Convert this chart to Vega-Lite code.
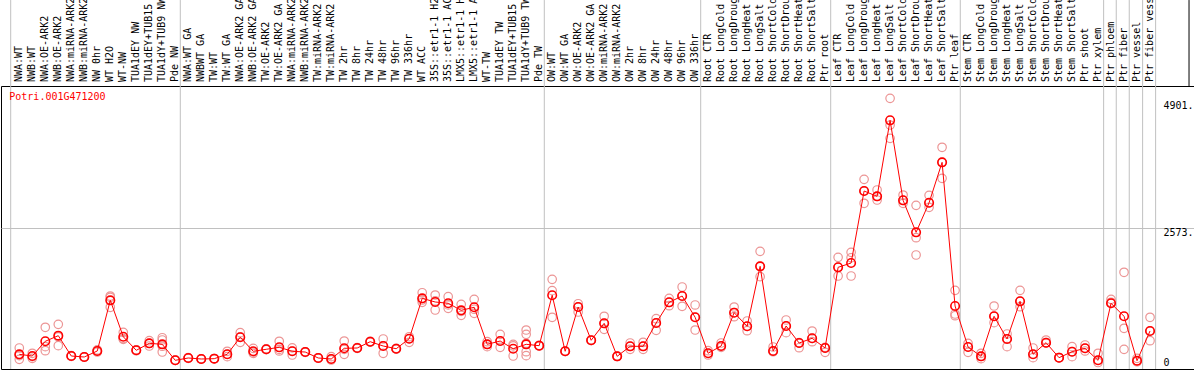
{
  "$schema": "https://vega.github.io/schema/vega-lite/v6.json",
  "autosize": "none",
  "padding": {"left": 1, "top": 86, "right": 0, "bottom": 1},
  "width": 1194,
  "height": 283,
  "background": "white",
  "config": {"view": {"stroke": "black", "strokeWidth": 1}},
  "datasets": {
    "means": [
      {"i":1,"label":"NWA:WT","v":156},{"i":2,"label":"NWB:WT","v":124},{"i":3,"label":"NWA:OE-ARK2","v":405},{"i":4,"label":"NWB:OE-ARK2","v":512},{"i":5,"label":"NWA:miRNA-ARK2","v":124},{"i":6,"label":"NWB:miRNA-ARK2","v":105},{"i":7,"label":"NW 0hr","v":220},{"i":8,"label":"WT H2O","v":1187},{"i":9,"label":"WT-NW","v":492},{"i":10,"label":"TUA1dEY NW","v":233},{"i":11,"label":"TUA1dEY+TUB15","v":366},{"i":12,"label":"TUA1dY+TUB9 NW","v":347},{"i":13,"label":"Pde NW","v":42},
      {"i":14,"label":"NWA:WT GA","v":86},{"i":15,"label":"NWBWT GA","v":67},{"i":16,"label":"TW:WT","v":73},{"i":17,"label":"TW:WT GA","v":157},{"i":18,"label":"NWA:OE-ARK2 GA","v":481},{"i":19,"label":"NWB:OE-ARK2 GA","v":214},{"i":20,"label":"TW:OE-ARK2","v":252},{"i":21,"label":"TW:OE-ARK2 GA","v":290},{"i":22,"label":"NWA:miRNA-ARK2","v":214},{"i":23,"label":"NWB:miRNA-ARK2","v":200},{"i":24,"label":"TW:miRNA-ARK2","v":86},{"i":25,"label":"TW:miRNA-ARK2","v":67},{"i":26,"label":"TW 2hr","v":271},{"i":27,"label":"TW 8hr","v":277},{"i":28,"label":"TW 24hr","v":397},{"i":29,"label":"TW 48hr","v":315},{"i":30,"label":"TW 96hr","v":263},{"i":31,"label":"TW 336hr","v":454},{"i":32,"label":"WT ACC","v":1225},{"i":33,"label":"35S::etr1-1 H2","v":1155},{"i":34,"label":"35S::etr1-1 AC","v":1130},{"i":35,"label":"LMX5::etr1-1 H","v":996},{"i":36,"label":"LMX5::etr1-1 A","v":1054},{"i":37,"label":"WT-TW","v":347},{"i":38,"label":"TUA1dEY TW","v":410},{"i":39,"label":"TUA1dEY+TUB15","v":263},{"i":40,"label":"TUA1dY+TUB9 TW","v":347},{"i":41,"label":"Pde TW","v":321},
      {"i":42,"label":"OW:WT","v":1283},{"i":43,"label":"OW:WT GA","v":214},{"i":44,"label":"OW:OE-ARK2","v":1059},{"i":45,"label":"OW:OE-ARK2 GA","v":424},{"i":46,"label":"OW:miRNA-ARK2","v":748},{"i":47,"label":"OW:miRNA-ARK2","v":118},{"i":48,"label":"OW 2hr","v":309},{"i":49,"label":"OW 8hr","v":309},{"i":50,"label":"OW 24hr","v":754},{"i":51,"label":"OW 48hr","v":1149},{"i":52,"label":"OW 96hr","v":1269},{"i":53,"label":"OW 336hr","v":863},
      {"i":54,"label":"Root CTR","v":176},{"i":55,"label":"Root LongCold","v":315},{"i":56,"label":"Root LongDroug","v":951},{"i":57,"label":"Root LongHeat","v":691},{"i":58,"label":"Root LongSalt","v":1836},{"i":59,"label":"Root ShortCold","v":220},{"i":60,"label":"Root ShortDrou","v":697},{"i":61,"label":"Root ShortHeat","v":372},{"i":62,"label":"Root ShortSalt","v":462},{"i":63,"label":"Ptr root","v":277},
      {"i":64,"label":"Leaf CTR","v":1817},{"i":65,"label":"Leaf LongCold","v":1899},{"i":66,"label":"Leaf LongDroug","v":3273},{"i":67,"label":"Leaf LongHeat","v":3172},{"i":68,"label":"Leaf LongSalt","v":4623},{"i":69,"label":"Leaf ShortCold","v":3096},{"i":70,"label":"Leaf ShortDrou","v":2485},{"i":71,"label":"Leaf ShortHeat","v":3050},{"i":72,"label":"Leaf ShortSalt","v":3821},{"i":73,"label":"Ptr leaf","v":1078},
      {"i":74,"label":"Stem CTR","v":296},{"i":75,"label":"Stem LongCold","v":118},{"i":76,"label":"Stem LongDroug","v":882},{"i":77,"label":"Stem LongHeat","v":449},{"i":78,"label":"Stem LongSalt","v":1168},{"i":79,"label":"Stem ShortCold","v":157},{"i":80,"label":"Stem ShortDrou","v":378},{"i":81,"label":"Stem ShortHeat","v":92},{"i":82,"label":"Stem ShortSalt","v":206},{"i":83,"label":"Ptr shoot","v":271},{"i":84,"label":"Ptr xylem","v":42},
      {"i":85,"label":"Ptr phloem","v":1130},{"i":86,"label":"Ptr fiber","v":882},{"i":87,"label":"Ptr vessel","v":34},{"i":88,"label":"Ptr fiber vess","v":601}
    ],
    "reps": [
      {"i":1,"v":277},{"i":1,"v":61},{"i":1,"v":130},
      {"i":2,"v":176},{"i":2,"v":111},{"i":2,"v":80},
      {"i":3,"v":672},{"i":3,"v":302},{"i":3,"v":225},
      {"i":4,"v":729},{"i":4,"v":321},{"i":4,"v":490},
      {"i":5,"v":124},{"i":5,"v":130},{"i":5,"v":118},
      {"i":6,"v":105},{"i":6,"v":100},{"i":6,"v":110},
      {"i":7,"v":220},{"i":7,"v":200},{"i":7,"v":240},
      {"i":8,"v":1269},{"i":8,"v":1244},{"i":8,"v":1054},
      {"i":9,"v":576},{"i":9,"v":443},{"i":9,"v":457},
      {"i":10,"v":240},{"i":10,"v":225},{"i":10,"v":235},
      {"i":11,"v":416},{"i":11,"v":315},{"i":11,"v":366},
      {"i":12,"v":473},{"i":12,"v":430},{"i":12,"v":310},{"i":12,"v":200},
      {"i":13,"v":42},{"i":13,"v":45},{"i":13,"v":40},
      {"i":14,"v":86},{"i":14,"v":80},{"i":14,"v":92},
      {"i":15,"v":67},{"i":15,"v":70},{"i":15,"v":64},
      {"i":16,"v":73},{"i":16,"v":70},{"i":16,"v":76},
      {"i":17,"v":214},{"i":17,"v":111},{"i":17,"v":157},
      {"i":18,"v":569},{"i":18,"v":386},{"i":18,"v":490},
      {"i":19,"v":271},{"i":19,"v":176},{"i":19,"v":200},
      {"i":20,"v":252},{"i":20,"v":260},{"i":20,"v":245},
      {"i":21,"v":405},{"i":21,"v":220},{"i":21,"v":250},
      {"i":22,"v":220},{"i":22,"v":143},{"i":22,"v":280},
      {"i":23,"v":200},{"i":23,"v":195},{"i":23,"v":205},
      {"i":24,"v":86},{"i":24,"v":90},{"i":24,"v":82},
      {"i":25,"v":111},{"i":25,"v":48},{"i":25,"v":67},
      {"i":26,"v":410},{"i":26,"v":156},{"i":26,"v":250},
      {"i":27,"v":277},{"i":27,"v":270},{"i":27,"v":285},
      {"i":28,"v":397},{"i":28,"v":390},{"i":28,"v":405},
      {"i":29,"v":449},{"i":29,"v":176},{"i":29,"v":320},
      {"i":30,"v":263},{"i":30,"v":255},{"i":30,"v":270},
      {"i":31,"v":492},{"i":31,"v":386},{"i":31,"v":454},
      {"i":32,"v":1332},{"i":32,"v":1149},{"i":32,"v":1194},
      {"i":33,"v":1288},{"i":33,"v":1002},{"i":33,"v":1175},
      {"i":34,"v":1256},{"i":34,"v":1034},{"i":34,"v":1100},
      {"i":35,"v":1111},{"i":35,"v":901},{"i":35,"v":976},
      {"i":36,"v":1206},{"i":36,"v":939},{"i":36,"v":1017},
      {"i":37,"v":397},{"i":37,"v":302},{"i":37,"v":347},
      {"i":38,"v":538},{"i":38,"v":290},{"i":38,"v":410},
      {"i":39,"v":347},{"i":39,"v":124},{"i":39,"v":318},
      {"i":40,"v":620},{"i":40,"v":538},{"i":40,"v":366},{"i":40,"v":206},{"i":40,"v":130},
      {"i":41,"v":321},{"i":41,"v":315},{"i":41,"v":328},
      {"i":42,"v":1588},{"i":42,"v":1371},{"i":42,"v":863},
      {"i":43,"v":214},{"i":43,"v":210},{"i":43,"v":218},
      {"i":44,"v":1122},{"i":44,"v":964},{"i":44,"v":1059},
      {"i":45,"v":424},{"i":45,"v":420},{"i":45,"v":430},
      {"i":46,"v":882},{"i":46,"v":634},{"i":46,"v":748},
      {"i":47,"v":118},{"i":47,"v":115},{"i":47,"v":122},
      {"i":48,"v":372},{"i":48,"v":252},{"i":48,"v":309},
      {"i":49,"v":386},{"i":49,"v":252},{"i":49,"v":309},
      {"i":50,"v":836},{"i":50,"v":615},{"i":50,"v":754},
      {"i":51,"v":1225},{"i":51,"v":1084},{"i":51,"v":1149},
      {"i":52,"v":1441},{"i":52,"v":1073},{"i":52,"v":1269},
      {"i":53,"v":1098},{"i":53,"v":620},{"i":53,"v":863},
      {"i":54,"v":225},{"i":54,"v":143},{"i":54,"v":176},
      {"i":55,"v":372},{"i":55,"v":315},{"i":55,"v":290},
      {"i":56,"v":1059},{"i":56,"v":874},{"i":56,"v":951},
      {"i":57,"v":792},{"i":57,"v":607},{"i":57,"v":691},
      {"i":58,"v":2122},{"i":58,"v":1638},{"i":58,"v":1836},
      {"i":59,"v":296},{"i":59,"v":206},{"i":59,"v":220},
      {"i":60,"v":811},{"i":60,"v":569},{"i":60,"v":697},
      {"i":61,"v":378},{"i":61,"v":282},{"i":61,"v":372},
      {"i":62,"v":601},{"i":62,"v":397},{"i":62,"v":462},
      {"i":63,"v":290},{"i":63,"v":195},{"i":63,"v":277},
      {"i":64,"v":2008},{"i":64,"v":1651},{"i":64,"v":1817},
      {"i":65,"v":2103},{"i":65,"v":2000},{"i":65,"v":1651},
      {"i":66,"v":3497},{"i":66,"v":3039},{"i":66,"v":3273},
      {"i":67,"v":3293},{"i":67,"v":3102},{"i":67,"v":3172},
      {"i":68,"v":5043},{"i":68,"v":4533},{"i":68,"v":4279},
      {"i":69,"v":3197},{"i":69,"v":3039},{"i":69,"v":3096},
      {"i":70,"v":3000},{"i":70,"v":2382},{"i":70,"v":2052},
      {"i":71,"v":3191},{"i":71,"v":2962},{"i":71,"v":3050},
      {"i":72,"v":4108},{"i":72,"v":3516},{"i":72,"v":3821},
      {"i":73,"v":1378},{"i":73,"v":926},{"i":73,"v":893},
      {"i":74,"v":366},{"i":74,"v":195},{"i":74,"v":296},
      {"i":75,"v":176},{"i":75,"v":73},{"i":75,"v":118},
      {"i":76,"v":1078},{"i":76,"v":760},{"i":76,"v":882},
      {"i":77,"v":544},{"i":77,"v":302},{"i":77,"v":449},
      {"i":78,"v":1378},{"i":78,"v":1065},{"i":78,"v":1168},
      {"i":79,"v":277},{"i":79,"v":92},{"i":79,"v":157},
      {"i":80,"v":429},{"i":80,"v":378},{"i":80,"v":370},
      {"i":81,"v":92},{"i":81,"v":95},{"i":81,"v":88},
      {"i":82,"v":302},{"i":82,"v":111},{"i":82,"v":206},
      {"i":83,"v":334},{"i":83,"v":220},{"i":83,"v":271},
      {"i":84,"v":176},{"i":84,"v":0},{"i":84,"v":42},
      {"i":85,"v":1206},{"i":85,"v":1130},{"i":85,"v":1150},
      {"i":86,"v":1722},{"i":86,"v":653},{"i":86,"v":252},
      {"i":87,"v":80},{"i":87,"v":15},{"i":87,"v":34},
      {"i":88,"v":863},{"i":88,"v":416},{"i":88,"v":601}
    ],
    "seps": [
      {"pos":0.338},{"pos":13.387},{"pos":41.394},{"pos":53.427},{"pos":63.43},{"pos":73.4},{"pos":84.43},{"pos":85.4},{"pos":86.4},{"pos":87.43},{"pos":88.43}
    ]
  },
  "layer": [
    {
      "data": {"name": "seps"},
      "mark": {"type": "rule", "color": "#c0c0c0", "strokeWidth": 1},
      "encoding": {
        "x": {"field": "pos", "type": "quantitative", "scale": {"domain": [-0.408, 91.46], "nice": false, "zero": false}, "axis": null},
        "y": {"datum": 6919, "type": "quantitative"},
        "y2": {"datum": -124}
      }
    },
    {
      "data": {"values": [{"edge": 91.0}]},
      "mark": {"type": "rule", "color": "black", "strokeWidth": 1},
      "encoding": {
        "x": {"field": "edge", "type": "quantitative"},
        "y": {"datum": 6919, "type": "quantitative"},
        "y2": {"datum": 5278}
      }
    },
    {
      "data": {"name": "reps"},
      "mark": {"type": "point", "shape": "circle", "filled": false, "size": 72, "color": "#ec9595", "strokeWidth": 1.2, "opacity": 1},
      "encoding": {
        "x": {"field": "i", "type": "quantitative"},
        "y": {"field": "v", "type": "quantitative"}
      }
    },
    {
      "data": {"name": "means"},
      "mark": {"type": "line", "color": "#ff0000", "strokeWidth": 1},
      "encoding": {
        "x": {"field": "i", "type": "quantitative"},
        "y": {
          "field": "v", "type": "quantitative",
          "scale": {"domain": [-124, 5278], "nice": false, "zero": false},
          "axis": {
            "orient": "right", "offset": -32, "values": [0, 2573, 4901],
            "labelExpr": "datum.value == 0 ? '0' : datum.value + '.'",
            "title": null, "domain": false, "ticks": false, "tickSize": 0,
            "labelPadding": 0, "labelAlign": "left", "labelFont": "DejaVu Sans Mono",
            "labelFontSize": 10, "labelColor": "black", "labelFlush": false, "labelOverlap": false,
            "grid": true, "gridColor": "#c0c0c0",
            "gridOpacity": {"condition": {"test": "datum.value == 2573", "value": 1}, "value": 0},
            "labelBaseline": {"condition": {"test": "datum.value == 2573", "value": "top"}, "value": "middle"}
          }
        }
      }
    },
    {
      "data": {"name": "means"},
      "mark": {"type": "point", "shape": "circle", "filled": false, "size": 72, "color": "#ff0000", "strokeWidth": 1.6, "opacity": 1},
      "encoding": {
        "x": {"field": "i", "type": "quantitative"},
        "y": {"field": "v", "type": "quantitative"}
      }
    },
    {
      "data": {"name": "means"},
      "mark": {"type": "text", "angle": 270, "align": "left", "baseline": "middle", "font": "DejaVu Sans Mono", "fontSize": 10, "color": "black"},
      "encoding": {
        "x": {"field": "i", "type": "quantitative"},
        "y": {"datum": 5354, "type": "quantitative"},
        "text": {"field": "label"}
      }
    },
    {
      "data": {"values": [{"gene": "Potri.001G471200"}]},
      "mark": {"type": "text", "align": "left", "baseline": "middle", "font": "DejaVu Sans Mono", "fontSize": 10, "color": "#ff0000"},
      "encoding": {
        "x": {"datum": 0.23, "type": "quantitative"},
        "y": {"datum": 5068, "type": "quantitative"},
        "text": {"field": "gene"}
      }
    }
  ]
}
